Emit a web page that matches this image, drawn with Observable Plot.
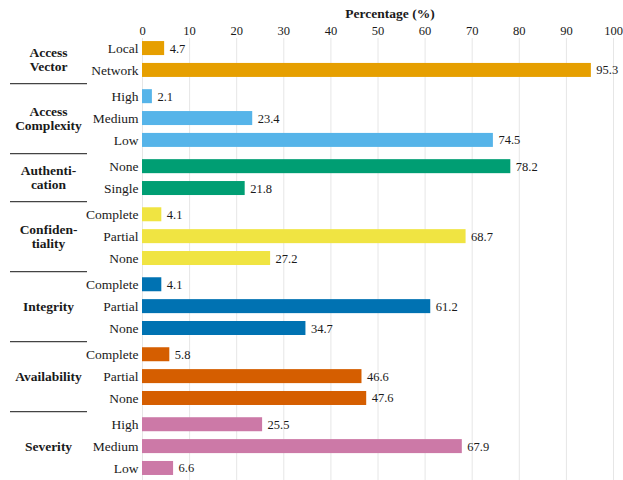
<!DOCTYPE html>
<html><head><meta charset="utf-8">
<script src="https://cdn.jsdelivr.net/npm/d3@7"></script>
<script src="https://cdn.jsdelivr.net/npm/@observablehq/plot@0.6"></script>
<style>body{margin:0;background:#fff}</style>
</head><body><div id="chart"></div>
<script>
const groups = ["Access\nVector","Access\nComplexity","Authenti-\ncation","Confiden-\ntiality","Integrity","Availability","Severity"];
const categories = [["Local","Network"],["High","Medium","Low"],["None","Single"],["Complete","Partial","None"],["Complete","Partial","None"],["Complete","Partial","None"],["High","Medium","Low"]];
const values = [[4.7,95.3],[2.1,23.4,74.5],[78.2,21.8],[4.1,68.7,27.2],[4.1,61.2,34.7],[5.8,46.6,47.6],[25.5,67.9,6.6]];
const colors = ["#E69F00","#56B4E9","#009E73","#F0E442","#0072B2","#D55E00","#CC79A7"];
const xTicks = [0,10,20,30,40,50,60,70,80,90,100];

const GAP = 0.2, HALF = 0.32;
const rows = [], groupRows = [], seps = [];
let idx = 0;
groups.forEach((g, gi) => {
  const start = idx + gi * GAP;
  categories[gi].forEach((c, ci) => {
    rows.push({group: g, gi, cat: c, value: values[gi][ci], pos: idx + gi * GAP, zero: 0});
    idx++;
  });
  const end = idx - 1 + gi * GAP;
  groupRows.push({group: g, pos: (start + end) / 2});
  if (gi < groups.length - 1) seps.push({pos: end + (1 + GAP) / 2});
});

const font = "Liberation Serif";
const chart = Plot.plot({
  width: 623, height: 480,
  marginLeft: 142, marginRight: 10, marginTop: 38, marginBottom: 0,
  style: {fontFamily: font, color: "#1a1a1a", background: "#fff"},
  x: {domain: [0, 100], ticks: xTicks, axis: null},
  y: {domain: [-0.46, 19.75], reverse: true, axis: null},
  color: {domain: groups, range: colors},
  marks: [
    Plot.gridX(xTicks, {stroke: "#e6e6e6", strokeOpacity: 1, strokeWidth: 1}),
    Plot.axisX(xTicks, {anchor: "top", tickSize: 0, tickPadding: 4, fontSize: 12.5, label: null, fontFamily: font}),
    Plot.text(["Percentage (%)"], {frameAnchor: "top", dx: 12, dy: -30, fontWeight: "bold", fontSize: 13.5, fontFamily: font}),
    Plot.rect(rows, {x1: "zero", x2: "value", y1: d => d.pos - HALF, y2: d => d.pos + HALF, fill: "group"}),
    Plot.text(rows, {x: "value", y: "pos", text: d => d.value.toFixed(1), dx: 5, textAnchor: "start", fontSize: 12.5, fill: "#1a1a1a", fontFamily: font}),
    Plot.text(rows, {y: "pos", text: "cat", frameAnchor: "left", dx: -4, textAnchor: "end", fontSize: 13.5, fill: "#1a1a1a", fontFamily: font}),
    Plot.text(groupRows, {y: "pos", text: "group", frameAnchor: "left", dx: -94, textAnchor: "middle", fontWeight: "bold", fontSize: 13.5, lineHeight: 1.05, fill: "#1a1a1a", fontFamily: font}),
    Plot.ruleY(seps, {y: "pos", insetLeft: -132, insetRight: 526, stroke: "#444", strokeWidth: 1.3})
  ]
});
document.getElementById("chart").append(chart);
</script>
</body></html>
